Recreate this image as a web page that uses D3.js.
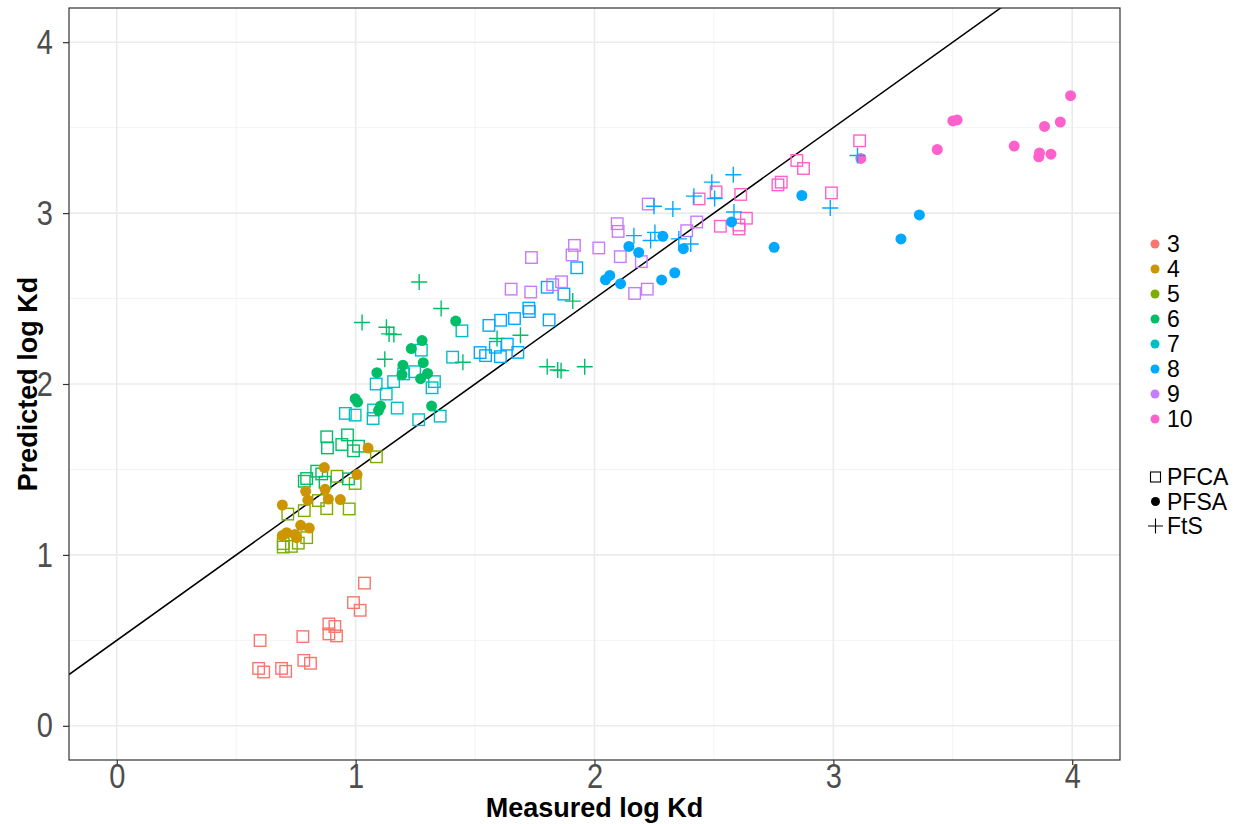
<!DOCTYPE html>
<html>
<head>
<meta charset="utf-8">
<script src="https://cdn.jsdelivr.net/npm/d3@7"></script>
<style>
  body { margin: 0; background: #fff; }
  svg { font-family: "Liberation Sans", Arial, sans-serif; }
</style>
</head>
<body>
<svg id="chart" width="1239" height="824"></svg>
<script>
// measured log Kd, predicted log Kd pairs per chain length / class
const pfca3 = [[1.037,0.835],[0.991,0.721],[1.019,0.676],[0.888,0.596],[0.913,0.581],[0.888,0.538],[0.920,0.526],[0.779,0.522],[0.600,0.499],[0.783,0.383],[0.811,0.366],[0.594,0.336],[0.615,0.315],[0.690,0.336],[0.707,0.319]];
const pfca5 = [[1.087,1.574],[0.998,1.418],[0.922,1.460],[0.844,1.318],[0.879,1.271],[0.973,1.269],[0.785,1.259],[0.716,1.239],[0.697,1.066],[0.697,1.046],[0.731,1.050],[0.760,1.069],[0.795,1.101]];
const pfca6 = [[0.879,1.691],[0.966,1.702],[0.882,1.626],[0.942,1.646],[0.991,1.609],[1.012,1.636],[0.837,1.490],[0.795,1.447],[0.785,1.431],[0.858,1.474],[0.872,1.425],[0.970,1.445]];
const pfca7 = [[1.445,2.311],[1.275,2.198],[1.406,2.157],[1.247,2.072],[1.201,2.059],[1.159,2.014],[1.086,2.000],[1.330,2.014],[1.320,1.978],[1.128,1.941],[0.998,1.818],[0.957,1.828],[1.075,1.848],[1.073,1.798],[1.174,1.859],[1.264,1.791],[1.354,1.812]];
const pfca8 = [[1.558,2.343],[1.607,2.373],[1.665,2.383],[1.725,2.444],[1.727,2.424],[1.810,2.375],[1.521,2.184],[1.544,2.166],[1.585,2.215],[1.606,2.160],[1.635,2.233],[1.679,2.185],[1.802,2.566],[1.872,2.526],[1.926,2.680]];
const pfca9 = [[1.651,2.555],[1.733,2.538],[1.825,2.581],[1.862,2.598],[1.736,2.740],[1.916,2.811],[1.906,2.755],[2.018,2.796],[2.095,2.938],[2.099,2.893],[2.108,2.745],[2.196,2.716],[2.168,2.530],[2.221,2.555],[2.225,3.053],[2.386,2.897],[2.428,2.948]];
const pfca10 = [[2.847,3.308],[2.875,3.261],[2.768,3.165],[2.782,3.181],[2.612,3.109],[2.636,2.970],[2.605,2.930],[2.605,2.907],[2.527,2.923],[2.509,3.124],[2.438,3.083],[3.110,3.423],[2.992,3.118]];
const pfsa4 = [[0.693,1.292],[0.770,1.173],[0.806,1.157],[0.711,1.130],[0.693,1.113],[0.746,1.120],[0.753,1.101],[0.791,1.372],[0.800,1.320],[0.872,1.384],[0.886,1.327],[0.936,1.324],[0.869,1.511],[1.006,1.470],[1.052,1.625]];
const pfsa6 = [[1.419,2.368],[1.278,2.254],[1.233,2.207],[1.283,2.125],[1.198,2.110],[1.089,2.066],[1.194,2.055],[1.301,2.062],[1.272,2.031],[0.998,1.914],[1.008,1.894],[1.318,1.871],[1.104,1.871],[1.096,1.846]];
const pfsa8 = [[2.046,2.610],[2.064,2.635],[2.109,2.587],[2.281,2.609],[2.336,2.651],[2.286,2.864],[2.372,2.792],[2.144,2.805],[2.185,2.770],[2.574,2.948],[2.752,2.800],[2.868,3.103],[3.360,2.989],[3.283,2.849]];
const pfsa10 = [[3.993,3.687],[3.500,3.539],[3.518,3.545],[3.884,3.507],[3.950,3.533],[3.435,3.372],[3.757,3.392],[3.863,3.352],[3.860,3.329],[3.911,3.345],[3.115,3.320]];
const fts6 = [[1.266,2.597],[1.358,2.442],[1.027,2.360],[1.129,2.332],[1.140,2.293],[1.160,2.290],[1.122,2.145],[1.449,2.127],[1.592,2.266],[1.690,2.285],[1.909,2.485],[1.802,2.101],[1.846,2.082],[1.860,2.078],[1.959,2.101]];
const fts8 = [[2.581,3.224],[2.491,3.181],[2.416,3.099],[2.503,3.085],[2.328,3.024],[2.249,3.040],[2.584,3.006],[2.165,2.868],[2.253,2.887],[2.235,2.840],[2.353,2.849],[2.403,2.819],[3.101,3.337],[2.987,3.030]];

const chainLevels = ["3","4","5","6","7","8","9","10"];
const classLevels = ["PFCA","PFSA","FtS"];
const xTicks = [0,1,2,3,4];
const yTicks = [0,1,2,3,4];
// reference line: predicted = measured + 0.5
const lineIntercept = 0.5;

const series = [
  {cls:"PFCA", chain:"3", pts:pfca3},
  {cls:"PFCA", chain:"5", pts:pfca5},
  {cls:"PFCA", chain:"6", pts:pfca6},
  {cls:"PFCA", chain:"7", pts:pfca7},
  {cls:"PFCA", chain:"8", pts:pfca8},
  {cls:"PFCA", chain:"9", pts:pfca9},
  {cls:"PFCA", chain:"10", pts:pfca10},
  {cls:"PFSA", chain:"4", pts:pfsa4},
  {cls:"PFSA", chain:"6", pts:pfsa6},
  {cls:"PFSA", chain:"8", pts:pfsa8},
  {cls:"PFSA", chain:"10", pts:pfsa10},
  {cls:"FtS", chain:"6", pts:fts6},
  {cls:"FtS", chain:"8", pts:fts8}
];
const points = series.flatMap(s => s.pts.map(p => ({x:p[0], y:p[1], cls:s.cls, chain:s.chain})));

const svg = d3.select("#chart");
const panel = {left: 69, right: 1120, top: 8, bottom: 760};

const x = d3.scaleLinear().domain([-0.2, 4.2]).range([panel.left, panel.right]);
const y = d3.scaleLinear().domain([-0.2, 4.2]).range([panel.bottom, panel.top]);

const color = d3.scaleOrdinal()
  .domain(chainLevels)
  .range(["#F8766D","#CD9600","#7CAE00","#00BE67","#00BFC4","#00A9FF","#C77CFF","#FF61CC"]);

svg.append("defs").append("clipPath").attr("id", "clip")
  .append("rect")
  .attr("x", panel.left).attr("y", panel.top)
  .attr("width", panel.right - panel.left).attr("height", panel.bottom - panel.top);

// grid
const minor = [-0.5, 0.5, 1.5, 2.5, 3.5];
const grid = svg.append("g");
grid.selectAll(".vmin").data(minor.filter(d => x(d) > panel.left)).join("line")
  .attr("x1", d => x(d)).attr("x2", d => x(d))
  .attr("y1", panel.top).attr("y2", panel.bottom)
  .attr("stroke", "#f3f3f3").attr("stroke-width", 1);
grid.selectAll(".hmin").data(minor.filter(d => y(d) < panel.bottom)).join("line")
  .attr("y1", d => y(d)).attr("y2", d => y(d))
  .attr("x1", panel.left).attr("x2", panel.right)
  .attr("stroke", "#f3f3f3").attr("stroke-width", 1);
grid.selectAll(".vmaj").data(xTicks).join("line")
  .attr("x1", d => x(d)).attr("x2", d => x(d))
  .attr("y1", panel.top).attr("y2", panel.bottom)
  .attr("stroke", "#ebebeb").attr("stroke-width", 1.6);
grid.selectAll(".hmaj").data(yTicks).join("line")
  .attr("y1", d => y(d)).attr("y2", d => y(d))
  .attr("x1", panel.left).attr("x2", panel.right)
  .attr("stroke", "#ebebeb").attr("stroke-width", 1.6);

// reference line
svg.append("line")
  .attr("clip-path", "url(#clip)")
  .attr("x1", x(-0.2)).attr("y1", y(-0.2 + lineIntercept))
  .attr("x2", x(4.2)).attr("y2", y(4.2 + lineIntercept))
  .attr("stroke", "#000").attr("stroke-width", 1.5);

// points
const marks = svg.append("g").attr("clip-path", "url(#clip)");
const sq = 11.5, pl = 8;
marks.selectAll("rect").data(points.filter(d => d.cls === "PFCA")).join("rect")
  .attr("x", d => x(d.x) - sq / 2).attr("y", d => y(d.y) - sq / 2)
  .attr("width", sq).attr("height", sq)
  .attr("fill", "none").attr("stroke", d => color(d.chain)).attr("stroke-width", 1.4);
marks.selectAll("circle").data(points.filter(d => d.cls === "PFSA")).join("circle")
  .attr("cx", d => x(d.x)).attr("cy", d => y(d.y)).attr("r", 5.5)
  .attr("fill", d => color(d.chain));
marks.selectAll("path").data(points.filter(d => d.cls === "FtS")).join("path")
  .attr("d", d => `M${x(d.x) - pl},${y(d.y)}H${x(d.x) + pl}M${x(d.x)},${y(d.y) - pl}V${y(d.y) + pl}`)
  .attr("stroke", d => color(d.chain)).attr("stroke-width", 1.4).attr("fill", "none");

// panel border
svg.append("rect")
  .attr("x", panel.left).attr("y", panel.top)
  .attr("width", panel.right - panel.left).attr("height", panel.bottom - panel.top)
  .attr("fill", "none").attr("stroke", "#333").attr("stroke-width", 1.2);

// axes (tick labels a bit stretched vertically, like the original export)
svg.append("g")
  .attr("transform", `translate(0,${panel.bottom})`)
  .call(d3.axisBottom(x).tickValues(xTicks).tickFormat(d3.format("d")).tickSize(5))
  .call(g => g.select(".domain").remove())
  .call(g => g.selectAll(".tick line").attr("stroke", "#333").attr("stroke-width", 1.2))
  .call(g => g.selectAll(".tick text").attr("fill", "#4d4d4d").attr("font-size", 29)
    .attr("font-family", "Liberation Sans, Arial, sans-serif")
    .attr("y", 3)
    .attr("transform", "scale(1,1.2)"));

svg.append("g")
  .attr("transform", `translate(${panel.left},0)`)
  .call(d3.axisLeft(y).tickValues(yTicks).tickFormat(d3.format("d")).tickSize(6).tickPadding(10))
  .call(g => g.select(".domain").remove())
  .call(g => g.selectAll(".tick line").attr("stroke", "#333").attr("stroke-width", 1.2))
  .call(g => g.selectAll(".tick text").attr("fill", "#4d4d4d").attr("font-size", 29)
    .attr("font-family", "Liberation Sans, Arial, sans-serif")
    .attr("transform", "scale(1,1.2)"));

// axis titles
svg.append("text")
  .attr("x", (panel.left + panel.right) / 2).attr("y", 817)
  .attr("text-anchor", "middle").attr("font-weight", "bold").attr("font-size", 27)
  .text("Measured log Kd");
svg.append("text")
  .attr("transform", `translate(37,${(panel.top + panel.bottom) / 2}) rotate(-90)`)
  .attr("text-anchor", "middle").attr("font-weight", "bold").attr("font-size", 27)
  .text("Predicted log Kd");

// legend: chain length colours
const leg = svg.append("g");
const legY = d3.scalePoint().domain(chainLevels).range([244, 419]);
leg.selectAll("circle").data(chainLevels).join("circle")
  .attr("cx", 1155).attr("cy", d => legY(d)).attr("r", 4.5)
  .attr("fill", d => color(d));
leg.selectAll("text").data(chainLevels).join("text")
  .attr("x", 1167).attr("y", d => legY(d)).attr("dy", "0.36em")
  .attr("font-size", 23).text(d => d);

// legend: compound class shapes
const shapeY = d3.scalePoint().domain(classLevels).range([477, 526]);
const sl = svg.append("g");
sl.append("rect").attr("x", 1150.5).attr("y", shapeY("PFCA") - 5).attr("width", 10).attr("height", 10)
  .attr("fill", "none").attr("stroke", "#000").attr("stroke-width", 1.1);
sl.append("circle").attr("cx", 1155.5).attr("cy", shapeY("PFSA")).attr("r", 4.5).attr("fill", "#000");
sl.append("path").attr("d", `M1148,${shapeY("FtS")}H1163M1155.5,${shapeY("FtS") - 7.5}V${shapeY("FtS") + 7.5}`)
  .attr("stroke", "#000").attr("stroke-width", 1.1);
sl.selectAll("text").data(classLevels).join("text")
  .attr("x", 1167).attr("y", d => shapeY(d)).attr("dy", "0.36em")
  .attr("font-size", 23).text(d => d);
</script>
</body>
</html>
